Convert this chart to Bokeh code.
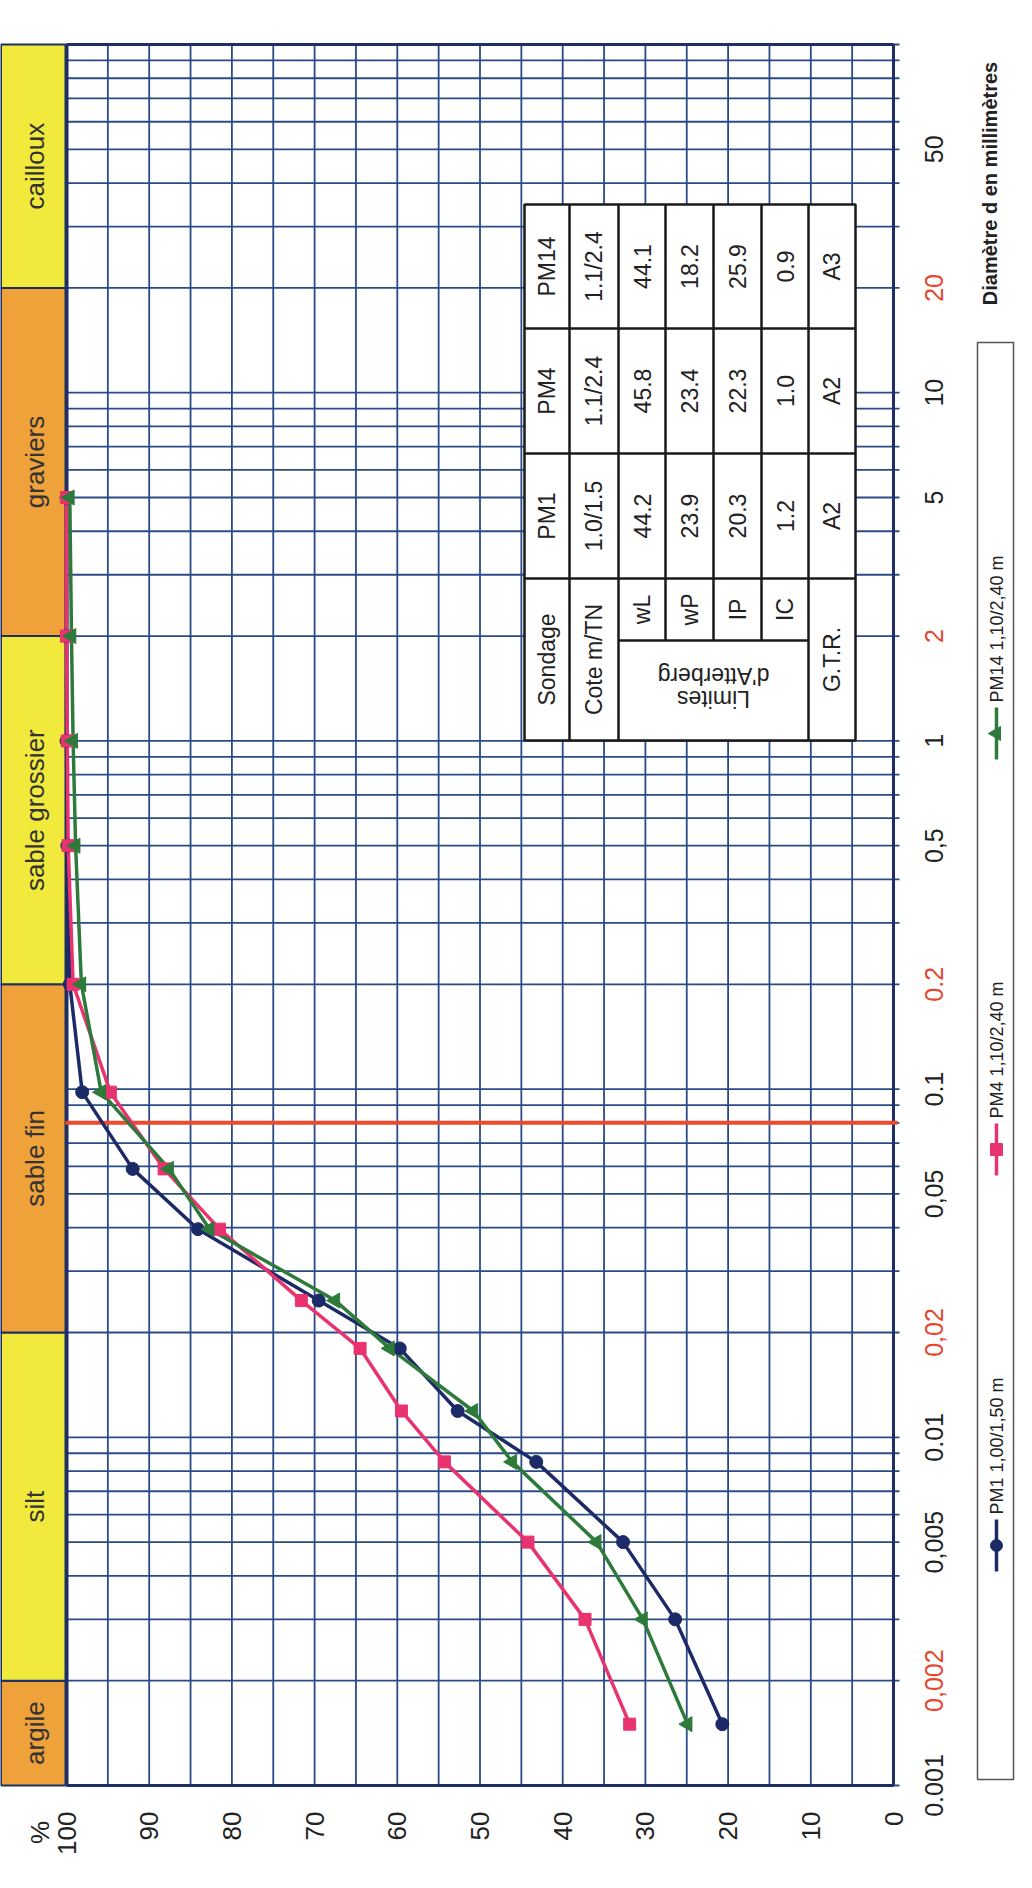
import numpy as np
from bokeh.plotting import figure
from bokeh.models import Range1d
from bokeh.core.properties import value
from bokeh.embed import file_html
from bokeh.resources import INLINE

# ---------------- data ----------------
diam_mm = [5, 2, 1, 0.5, 0.2, 0.098, 0.059, 0.0396, 0.0247, 0.018, 0.0119, 0.0085, 0.005, 0.003, 0.0015]
pm1 = [100, 100, 100, 99.9, 99.6, 98.1, 92.0, 84.1, 69.5, 59.7, 52.7, 43.2, 32.7, 26.4, 20.7]
pm4 = [100, 100, 99.9, 99.8, 99.2, 94.7, 88.2, 81.5, 71.6, 64.5, 59.5, 54.3, 44.2, 37.3, 31.9]
pm14 = [99.6, 99.4, 99.2, 98.9, 98.2, 95.8, 87.6, 82.7, 67.5, 60.9, 50.8, 46.1, 35.9, 30.3, 24.9]
series_names = ["PM1 1,00/1,50 m", "PM4 1,10/2,40 m", "PM14 1,10/2,40 m"]

diam_ticks = [0.001, 0.002, 0.005, 0.01, 0.02, 0.05, 0.1, 0.2, 0.5, 1, 2, 5, 10, 20, 50]
diam_tick_labels = ["0.001", "0,002", "0,005", "0.01", "0,02", "0,05", "0.1", "0.2",
                    "0,5", "1", "2", "5", "10", "20", "50"]
class_bounds = [0.001, 0.002, 0.02, 0.2, 2, 20, 100]
class_names = ["argile", "silt", "sable fin", "sable grossier", "graviers", "cailloux"]
pct_ticks = [100, 90, 80, 70, 60, 50, 40, 30, 20, 10, 0]
limit_80um = 0.08

table_header = ["Sondage", "Cote m/TN", "wL", "wP", "IP", "IC", "G.T.R."]
table_pm1 = ["PM1", "1.0/1.5", "44.2", "23.9", "20.3", "1.2", "A2"]
table_pm4 = ["PM4", "1.1/2.4", "45.8", "23.4", "22.3", "1.0", "A2"]
table_pm14 = ["PM14", "1.1/2.4", "44.1", "18.2", "25.9", "0.9", "A3"]

# ---------------- layout helpers (page pixels -> data) ----------------
X100, PX_PER_PCT = 74.0, 8.27
Y_TOP, PX_PER_DEC = 52.0, 348.2


def px_x(px):
    return 100 - (px - X100) / PX_PER_PCT


def px_y(py):
    return 10 ** (2 - (py - Y_TOP) / PX_PER_DEC)


W, H = 1016, 1868
FONT = value("Liberation Sans")
GRID = "#2a4b86"
DARK = "#1d2f63"

p = figure(width=W, height=H,
           x_range=Range1d(px_x(8), px_x(8 + W)),
           y_range=Range1d(px_y(8 + H), px_y(8)),
           y_axis_type="log", x_axis_location=None, y_axis_location=None,
           output_backend="svg", toolbar_location=None, min_border=0,
           outline_line_color=None, background_fill_color="white",
           border_fill_color="white")
p.xgrid.grid_line_color = None
p.ygrid.grid_line_color = None


def txt(xs, ys, texts, size, color="#222222", angle=np.pi / 2, align="center",
        baseline="middle", style="normal"):
    p.text(x=xs, y=ys, text=texts, text_font=FONT, text_font_size=f"{size}px",
           text_color=color, angle=angle, text_align=align,
           text_baseline=baseline, text_font_style=style)


# ---------------- grid ----------------
vx = list(range(0, 101, 5))
p.segment(x0=vx, x1=vx, y0=[0.001] * len(vx), y1=[100] * len(vx),
          line_color=GRID, line_width=1.8)
hy = [k * 10.0 ** e for e in range(-3, 2) for k in range(1, 10)] + [100]
p.segment(x0=[100] * len(hy), x1=[px_x(907)] * len(hy), y0=hy, y1=hy,
          line_color=GRID, line_width=1.8)
# frame borders
p.segment(x0=[100, 0, 100, 100], x1=[100, 0, 0, 0],
          y0=[0.001, 0.001, 0.001, 100], y1=[100, 100, 0.001, 100],
          line_color=DARK, line_width=[4, 3, 3, 3])

# ---------------- class band ----------------
band_cols = ["#efa13a", "#f1ea3d"] * 3
p.quad(left=[px_x(8.5)] * 6, right=[px_x(73)] * 6, bottom=class_bounds[:-1],
       top=class_bounds[1:], fill_color=band_cols, line_color=DARK, line_width=2)
mids = [np.sqrt(a * b) for a, b in zip(class_bounds[:-1], class_bounds[1:])]
txt([px_x(42)] * 6, mids, class_names, 26, color="#333333")

# ---------------- 80 µm line ----------------
p.segment(x0=[px_x(73)], x1=[px_x(905)], y0=[limit_80um], y1=[limit_80um],
          line_color="#ee4a2e", line_width=4)

# ---------------- curves ----------------
COL1, COL4, COL14 = "#1c2a68", "#e8336e", "#2d7a3a"
p.line(pm1, diam_mm, line_color=COL1, line_width=3.5)
p.line(pm4, diam_mm, line_color=COL4, line_width=3.5)
p.line(pm14, diam_mm, line_color=COL14, line_width=3.5)
p.scatter(pm1, diam_mm, marker="circle", size=13, fill_color=COL1, line_color=COL1)
p.scatter(pm4, diam_mm, marker="square", size=12, fill_color=COL4, line_color=COL4)
p.scatter(pm14, diam_mm, marker="triangle", size=15, angle=np.pi / 2,
          fill_color=COL14, line_color=COL14)

# ---------------- tick labels ----------------
red_set = {"0,002", "0,02", "0.2", "2", "20"}
tcols = ["#e8452e" if t in red_set else "#222222" for t in diam_tick_labels]
txt([px_x(941)] * len(diam_ticks), diam_ticks, diam_tick_labels, 25, color=tcols)
txt(pct_ticks, [px_y(1819)] * len(pct_ticks), [str(v) for v in pct_ticks], 26,
    align="right")
txt([px_x(47)], [px_y(1840)], ["%"], 26)
txt([px_x(997)], [px_y(191)], ["Diamètre d en millimètres"], 20, style="bold")

# ---------------- table ----------------
tx = [532, 577, 626, 673, 721, 769, 816, 863]
ty = [212, 336, 461, 586, 748]
p.quad(left=[px_x(tx[0])], right=[px_x(tx[-1])], bottom=[px_y(ty[-1])],
       top=[px_y(ty[0])], fill_color="white", line_color="#1a1a1a", line_width=2.5)
sx0, sx1, sy0, sy1 = [], [], [], []
for xv in tx[1:-1]:
    bottom = 648 if xv in (673, 721, 769) else ty[-1]
    sx0.append(px_x(xv)); sx1.append(px_x(xv)); sy0.append(px_y(ty[0])); sy1.append(px_y(bottom))
for yv in ty[1:-1]:
    sx0.append(px_x(tx[0])); sx1.append(px_x(tx[-1])); sy0.append(px_y(yv)); sy1.append(px_y(yv))
sx0.append(px_x(626)); sx1.append(px_x(816)); sy0.append(px_y(648)); sy1.append(px_y(648))
p.segment(x0=sx0, x1=sx1, y0=sy0, y1=sy1, line_color="#1a1a1a", line_width=2.5)

col_c = [(a + b) / 2 for a, b in zip(tx[:-1], tx[1:])]
row_c = {"PM1": 523.5, "PM4": 398.5, "PM14": 274}
hx, hy2 = [], []
for j, c in enumerate(col_c):
    hx.append(px_x(c))
    hy2.append(px_y(617 if 2 <= j <= 5 else 667))
txt(hx, hy2, table_header, 23)
for key, rowv in (("PM1", table_pm1), ("PM4", table_pm4), ("PM14", table_pm14)):
    txt([px_x(c) for c in col_c], [px_y(row_c[key])] * len(col_c), rowv, 23)
txt([px_x(721), px_x(721)], [px_y(706), px_y(683)], ["Limites", "d'Atterberg"], 23,
    angle=np.pi)

# ---------------- legend ----------------
p.quad(left=[px_x(985)], right=[px_x(1021)], bottom=[px_y(1787)], top=[px_y(350)],
       fill_color="white", line_color="#555555", line_width=1.5)
leg_y = [1553, 1157, 741]
leg_cols = [COL1, COL4, COL14]
leg_marks = ["circle", "square", "triangle"]
LX = px_x(1004)
for yy, col, mk, name in zip(leg_y, leg_cols, leg_marks, series_names):
    p.segment(x0=[LX], x1=[LX], y0=[px_y(yy - 26)], y1=[px_y(yy + 26)],
              line_color=col, line_width=3.5)
    p.scatter([LX], [px_y(yy)], marker=mk, size=12 if mk != "triangle" else 14,
              angle=np.pi / 2 if mk == "triangle" else 0,
              fill_color=col, line_color=col)
    txt([LX], [px_y(yy - 31)], [name], 18, align="left")

html = file_html(p, INLINE, title="Courbes granulométriques")
open("out.html", "w").write(html)
